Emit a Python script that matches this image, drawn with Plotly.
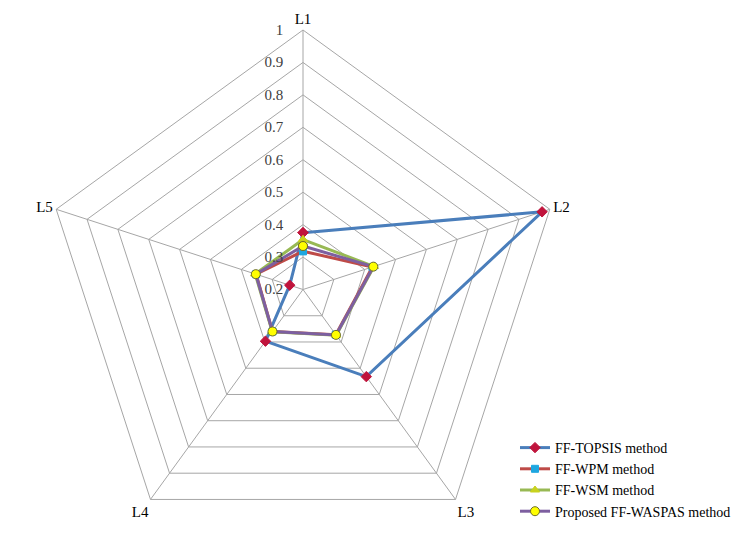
import plotly.graph_objects as go

# -------------------------
# DATA
# -------------------------
axes_labels = ["L1", "L2", "L3", "L4", "L5"]

topsis = [0.375, 0.975, 0.532, 0.397, 0.243]
wpm = [0.318, 0.425, 0.372, 0.360, 0.352]
wsm = [0.354, 0.430, 0.374, 0.361, 0.355]
waspas = [0.334, 0.428, 0.373, 0.360, 0.353]

radial_ticks = [0.2, 0.3, 0.4, 0.5, 0.6, 0.7, 0.8, 0.9, 1.0]
radial_text = ["0.2", "0.3", "0.4", "0.5", "0.6", "0.7", "0.8", "0.9", "1"]

series = [
    ("FF-TOPSIS method", topsis, "#4A7EBB", "diamond", "#C0143C", "#C0143C", 8),
    ("FF-WPM method", wpm, "#BE4B48", "square", "#1EA7E0", "#1EA7E0", 7),
    ("FF-WSM method", wsm, "#98B954", "triangle-up", "#C8D21E", "#C8D21E", 8),
    ("Proposed FF-WASPAS method", waspas, "#7D5FA0", "circle", "#FFFF00", "#6E6E2A", 9),
]

FONT = "Liberation Serif, Times New Roman, serif"


def closed(vals):
    return list(vals) + [vals[0]]


fig = go.Figure()
for name, vals, lcol, sym, mcol, mline, msize in series:
    fig.add_trace(go.Scatterpolar(
        r=closed(vals),
        theta=closed(axes_labels),
        name=name,
        mode="lines+markers",
        line=dict(color=lcol, width=3),
        marker=dict(symbol=sym, color=mcol, size=msize,
                    line=dict(color=mline, width=1)),
    ))

W, H = 755, 541
top_px = 22
rad = (H - top_px) / 2
cx = 295

fig.update_layout(
    width=W,
    height=H,
    margin=dict(l=0, r=0, t=0, b=0),
    paper_bgcolor="white",
    font=dict(family=FONT, size=14, color="black"),
    polar=dict(
        domain=dict(x=[(cx - rad) / W, (cx + rad) / W], y=[0, 1 - top_px / H]),
        gridshape="linear",
        bgcolor="white",
        radialaxis=dict(
            range=[0.2, 1.0],
            tickvals=radial_ticks,
            ticktext=radial_text,
            angle=90,
            tickangle=90,
            side="counterclockwise",
            showline=False,
            ticks="outside",
            ticklen=14,
            tickcolor="rgba(0,0,0,0)",
            gridcolor="#A6A6A6",
            gridwidth=1,
            tickfont=dict(family=FONT, size=15, color="#404040"),
        ),
        angularaxis=dict(
            rotation=90,
            direction="clockwise",
            gridcolor="#A6A6A6",
            linecolor="#A6A6A6",
            ticks="",
            tickfont=dict(family=FONT, size=15, color="black"),
        ),
    ),
    legend=dict(
        x=507 / W, y=1 - 424 / H,
        xanchor="left", yanchor="top",
        font=dict(family=FONT, size=14, color="black"),
        bgcolor="rgba(0,0,0,0)",
    ),
)

fig.write_html("out.html")
